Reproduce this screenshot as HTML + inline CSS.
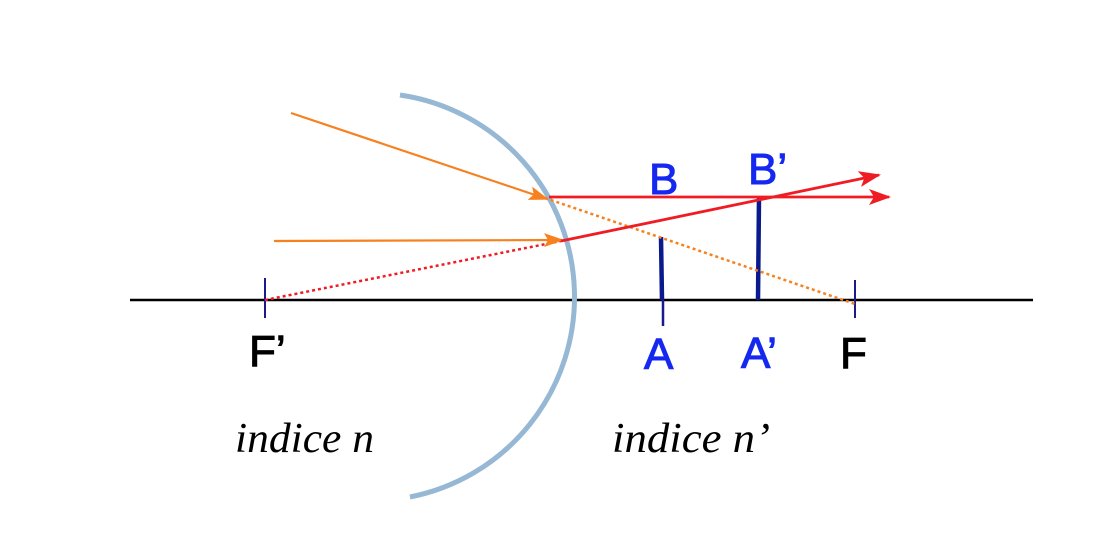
<!DOCTYPE html>
<html><head><meta charset="utf-8"><style>
html,body{margin:0;padding:0;background:#fff;}
svg{display:block}
</style></head><body>
<svg width="1104" height="542" viewBox="0 0 1104 542" xmlns="http://www.w3.org/2000/svg">
<defs>
<marker id="ar" markerWidth="22" markerHeight="16" refX="20" refY="8" orient="auto" markerUnits="userSpaceOnUse" viewBox="0 0 22 16"><path d="M0,0 L22,8 L0,16 L5,8z" fill="#f01c24"/></marker>
<marker id="ao" markerWidth="20" markerHeight="14" refX="18" refY="7" orient="auto" markerUnits="userSpaceOnUse" viewBox="0 0 20 14"><path d="M0,0 L20,7 L0,14 L4,7z" fill="#f7801f"/></marker>
</defs>
<line x1="130" y1="300" x2="1033" y2="300" stroke="#000" stroke-width="2.5"/>
<path d="M400,95 A204,204 0 0 1 410,497" fill="none" stroke="#96b8d4" stroke-width="5"/>
<line x1="265" y1="278" x2="265" y2="318" stroke="#1a1a8c" stroke-width="2"/>
<line x1="855" y1="280" x2="855" y2="318" stroke="#1a1a8c" stroke-width="2"/>
<line x1="663" y1="300" x2="663" y2="326" stroke="#1a1a8c" stroke-width="2.5"/>
<line x1="661" y1="237" x2="662" y2="300" stroke="#0a1a8c" stroke-width="4.5"/>
<line x1="759" y1="197" x2="758" y2="300" stroke="#0a1a8c" stroke-width="4.5"/>
<line x1="265" y1="300" x2="561" y2="241" stroke="#f01c24" stroke-width="2.5" stroke-dasharray="3,3"/>
<line x1="545" y1="198" x2="855" y2="304" stroke="#f7801f" stroke-width="2.5" stroke-dasharray="3,3"/>
<line x1="291" y1="113" x2="547" y2="199" stroke="#f7801f" stroke-width="2.2" marker-end="url(#ao)"/>
<line x1="274" y1="241" x2="562" y2="240" stroke="#f7801f" stroke-width="2.2" marker-end="url(#ao)"/>
<line x1="549" y1="197" x2="889" y2="197" stroke="#f01c24" stroke-width="2.8" marker-end="url(#ar)"/>
<line x1="561" y1="241" x2="879" y2="175" stroke="#f01c24" stroke-width="2.8" marker-end="url(#ar)"/>
<g font-family="Liberation Sans, sans-serif" font-size="44" stroke-width="1">
<text x="249" y="366" fill="#000" stroke="#000">F’</text>
<text x="840" y="368" fill="#000" stroke="#000">F</text>
<text x="644" y="369" fill="#1428f0" stroke="#1428f0">A</text>
<text x="741" y="368" fill="#1428f0" stroke="#1428f0">A’</text>
<text x="649" y="194" fill="#1428f0" stroke="#1428f0">B</text>
<text x="748" y="184" fill="#1428f0" stroke="#1428f0">B’</text>
</g>
<g font-family="Liberation Serif, serif" font-style="italic" font-size="42" fill="#000">
<text x="235" y="452" textLength="139" lengthAdjust="spacingAndGlyphs">indice n</text>
<text x="612" y="452" textLength="158" lengthAdjust="spacingAndGlyphs">indice n’</text>
</g>
</svg>
</body></html>
